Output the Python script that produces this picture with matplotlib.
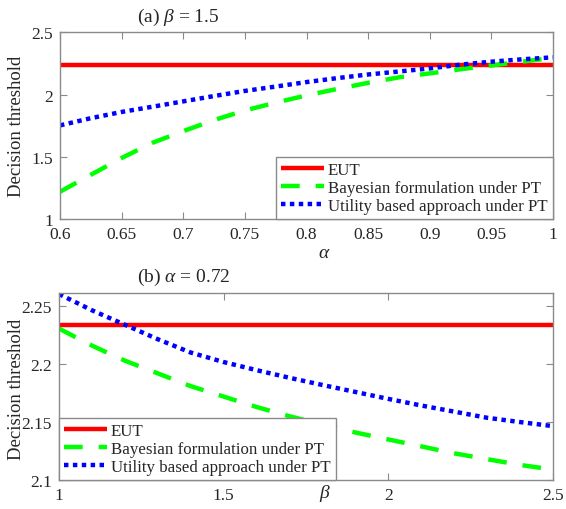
import matplotlib
matplotlib.use('Agg')
import matplotlib.pyplot as plt

plt.rcParams['font.family'] = ['Liberation Serif', 'DejaVu Serif']
plt.rcParams['mathtext.fontset'] = 'custom'
plt.rcParams['mathtext.rm'] = 'Liberation Serif'
plt.rcParams['mathtext.it'] = 'Liberation Serif:italic'

# ---- panel (a): beta = 1.5 ----
alpha = [0.6, 0.625, 0.65, 0.675, 0.7, 0.725, 0.75, 0.775, 0.8, 0.825,
         0.85, 0.875, 0.9, 0.925, 0.95, 0.975, 1.0]
eut_a = 2.234
bayes_a = [1.219, 1.355, 1.490, 1.612, 1.706, 1.795, 1.872, 1.935, 1.993,
           2.045, 2.094, 2.138, 2.170, 2.203, 2.234, 2.264, 2.295]
util_a = [1.752, 1.810, 1.860, 1.902, 1.945, 1.988, 2.029, 2.064, 2.100,
          2.132, 2.161, 2.185, 2.210, 2.240, 2.264, 2.283, 2.299]

# ---- panel (b): alpha = 0.72 ----
beta = [1.0, 1.1, 1.2, 1.3, 1.4, 1.5, 1.6, 1.7, 1.8, 1.9, 2.0, 2.1, 2.2,
        2.3, 2.4, 2.5]
eut_b = 2.234
bayes_b = [2.2307, 2.216, 2.203, 2.192, 2.181, 2.172, 2.163, 2.155, 2.148,
           2.141, 2.135, 2.129, 2.123, 2.118, 2.113, 2.109]
util_b = [2.2605, 2.2465, 2.234, 2.2215, 2.210, 2.2018, 2.1948, 2.1882,
          2.182, 2.176, 2.170, 2.1643, 2.159, 2.1537, 2.150, 2.1465]

labels = ['EUT', 'Bayesian formulation under PT', 'Utility based approach under PT']
xticks_a = [0.6, 0.65, 0.7, 0.75, 0.8, 0.85, 0.9, 0.95, 1.0]
xticklabels_a = ['0.6', '0.65', '0.7', '0.75', '0.8', '0.85', '0.9', '0.95', '1']
yticks_a = [1, 1.5, 2, 2.5]
yticklabels_a = ['1', '1.5', '2', '2.5']
xticks_b = [1, 1.5, 2, 2.5]
xticklabels_b = ['1', '1.5', '2', '2.5']
yticks_b = [2.1, 2.15, 2.2, 2.25]
yticklabels_b = ['2.1', '2.15', '2.2', '2.25']

W, H = 566, 510
fig = plt.figure(figsize=(W / 100, H / 100), dpi=100)

spine_c = '#8a8a8a'
text_c = '#262626'
FS = 12.5
LFS = 12.2
LW = 3.2


def box(l, t, r, b):
    return [l / W, 1 - b / H, (r - l) / W, (b - t) / H]


def style(ax):
    for s in ax.spines.values():
        s.set_color(spine_c)
        s.set_linewidth(1.0)
    ax.tick_params(direction='in', length=5, width=0.8, color=spine_c,
                   labelcolor=text_c, labelsize=FS, top=True, right=True, pad=5)


def draw(ax, x, eut, bayes, util):
    ax.plot(x, [eut] * len(x), color='#ff0000', lw=LW, solid_capstyle='butt',
            label=labels[0])
    ax.plot(x, bayes, color='#00ff00', lw=LW, dashes=(4.2, 3.6),
            dash_capstyle='butt', label=labels[1])
    ax.plot(x, util, color='#0000ff', lw=LW, dashes=(1.0, 1.0),
            dash_capstyle='butt', label=labels[2])


def legend(ax, loc):
    leg = ax.legend(loc=loc, borderaxespad=0,
                    fancybox=False, framealpha=1, edgecolor=spine_c,
                    fontsize=LFS, handlelength=2.5, handletextpad=0.25,
                    labelspacing=0.1, borderpad=0.32, handleheight=0.7)
    leg.get_frame().set_linewidth(1.0)
    for t in leg.get_texts():
        t.set_color(text_c)
    return leg


ax1 = fig.add_axes(box(60, 33.3, 553, 220))
draw(ax1, alpha, eut_a, bayes_a, util_a)
ax1.set_xlim(0.6, 1.0)
ax1.set_ylim(1, 2.5)
ax1.set_xticks(xticks_a, xticklabels_a)
ax1.set_yticks(yticks_a, yticklabels_a)
style(ax1)
legend(ax1, 'lower right')

ax2 = fig.add_axes(box(59, 294, 553, 481))
draw(ax2, beta, eut_b, bayes_b, util_b)
ax2.set_xlim(1, 2.5)
ax2.set_ylim(2.1, 2.2614)
ax2.set_xticks(xticks_b, xticklabels_b)
ax2.set_yticks(yticks_b, yticklabels_b)
style(ax2)
legend(ax2, 'lower left')

# titles and axis labels
TFS = 14
fig.text(137 / W, 1 - 17 / H, r'(a) $\beta$ = 1.5', ha='left', va='center',
         fontsize=TFS, color=text_c)
fig.text(137 / W, 1 - 277 / H, r'(b) $\alpha$ = 0.72', ha='left', va='center',
         fontsize=TFS, color=text_c)
fig.text(324 / W, 1 - 253 / H, r'$\alpha$', ha='center', va='center',
         fontsize=TFS, color=text_c)
fig.text(325 / W, 1 - 494 / H, r'$\beta$', ha='center', va='center',
         fontsize=TFS, color=text_c)
fig.text(17 / W, 1 - 126.7 / H, 'Decision threshold', ha='center', va='center',
         rotation=90, fontsize=13.5, color=text_c)
fig.text(17 / W, 1 - 389 / H, 'Decision threshold', ha='center', va='center',
         rotation=90, fontsize=13.5, color=text_c)

fig.savefig('out.png', dpi=100)
